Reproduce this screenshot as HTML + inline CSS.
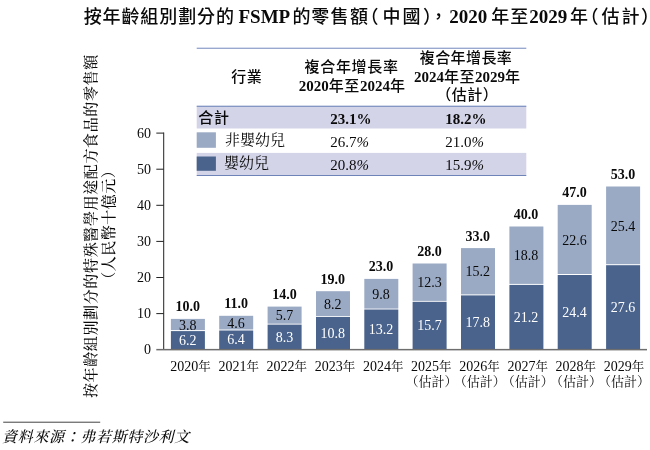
<!DOCTYPE html>
<html lang="zh-Hant"><head><meta charset="utf-8"><title>FSMP</title>
<style>html,body{margin:0;padding:0;background:#fff}svg{display:block}text{fill:#0a0a0a}</style></head><body>
<svg width="650" height="450" viewBox="0 0 650 450">
<rect width="650" height="450" fill="#fff"/>
<text y="23.4" font-family='"Liberation Serif", "Noto Sans CJK TC", sans-serif' font-weight="bold" font-size="18"><tspan x="83.7 102.6 121.4 140.3 159.2 178.2 197.1 215.9" font-size="18" font-weight="500">按年齡組別劃分的</tspan><tspan x="238.5" font-size="19">FSMP</tspan><tspan x="292.5 311.2 330.5 350.1" font-size="18" font-weight="500">的零售額</tspan><tspan x="360.5" font-size="18" font-weight="500">（</tspan><tspan x="382.5 402.4" font-size="18" font-weight="500">中國</tspan><tspan x="423.0" font-size="18" font-weight="500">）</tspan><tspan x="429.4" font-size="18" font-weight="500">，</tspan><tspan x="449.3" font-size="19">2020</tspan><tspan x="491.3 510.2" font-size="18" font-weight="500">年至</tspan><tspan x="529.2" font-size="19">2029</tspan><tspan x="570.0" font-size="18" font-weight="500">年</tspan><tspan x="580.6" font-size="18" font-weight="500">（</tspan><tspan x="601.6 621.4" font-size="18" font-weight="500">估計</tspan><tspan x="641.1" font-size="18" font-weight="500">）</tspan></text>
<rect x="196.7" y="106.3" width="329.6" height="22.2" fill="#d3d4e8"/>
<rect x="196.7" y="152.9" width="329.6" height="22.4" fill="#d3d4e8"/>
<rect x="196.7" y="47.7" width="329.6" height="1.1" fill="#7f93c4"/>
<rect x="196.7" y="105.7" width="329.6" height="1.1" fill="#6e84b9"/>
<rect x="196.7" y="175" width="329.6" height="1" fill="#6e84b9"/>
<rect x="196.7" y="132.3" width="19.2" height="15.5" fill="#9aaac4"/>
<rect x="196.7" y="156.5" width="19.2" height="14.3" fill="#4a638c"/>
<text x="246.7" y="82.4" font-family='"Liberation Serif", "Noto Sans CJK TC", sans-serif' font-size="15" text-anchor="middle"><tspan font-weight="500" letter-spacing="0.5">行業</tspan></text>
<text x="351.6" y="72.2" font-family='"Liberation Serif", "Noto Sans CJK TC", sans-serif' font-size="15" text-anchor="middle"><tspan font-weight="500" letter-spacing="0.7">複合年增長率</tspan></text>
<text x="352.1" y="90.6" font-family='"Liberation Serif", "Noto Sans CJK TC", sans-serif' font-size="15" text-anchor="middle"><tspan font-weight="bold" letter-spacing="0">2020</tspan><tspan font-weight="500" letter-spacing="0.6">年至</tspan><tspan font-weight="bold" letter-spacing="0">2024</tspan><tspan font-weight="500" letter-spacing="0.6">年</tspan></text>
<text x="466" y="63.3" font-family='"Liberation Serif", "Noto Sans CJK TC", sans-serif' font-size="15" text-anchor="middle"><tspan font-weight="500" letter-spacing="0.4">複合年增長率</tspan></text>
<text x="467.2" y="81.6" font-family='"Liberation Serif", "Noto Sans CJK TC", sans-serif' font-size="15" text-anchor="middle"><tspan font-weight="bold" letter-spacing="0">2024</tspan><tspan font-weight="500" letter-spacing="0.5">年至</tspan><tspan font-weight="bold" letter-spacing="0">2029</tspan><tspan font-weight="500" letter-spacing="0.5">年</tspan></text>
<text x="467.2" y="99.6" font-family='"Liberation Serif", "Noto Sans CJK TC", sans-serif' font-size="15" text-anchor="middle"><tspan font-weight="500" letter-spacing="0.5">（估計）</tspan></text>
<text x="198.3" y="123.1" font-family='"Liberation Serif", "Noto Sans CJK TC", sans-serif' font-size="15"><tspan font-weight="500" letter-spacing="0.8">合計</tspan></text>
<text x="225" y="144.7" font-family='"Liberation Serif", "Noto Serif CJK SC", serif' font-size="15">非嬰幼兒</text>
<text x="224" y="168.3" font-family='"Liberation Serif", "Noto Serif CJK SC", serif' font-size="15">嬰幼兒</text>
<text x="330.3" y="123.5" font-family='"Liberation Serif", "Noto Serif CJK SC", serif' font-size="15" font-weight="bold">23.1%</text>
<text x="445.3" y="123.5" font-family='"Liberation Serif", "Noto Serif CJK SC", serif' font-size="15" font-weight="bold">18.2%</text>
<text x="330.3" y="146.5" font-family='"Liberation Serif", "Noto Serif CJK SC", serif' font-size="15">26.7<tspan font-style="italic">%</tspan></text>
<text x="445.3" y="146.5" font-family='"Liberation Serif", "Noto Serif CJK SC", serif' font-size="15">21.0<tspan font-style="italic">%</tspan></text>
<text x="330.3" y="170" font-family='"Liberation Serif", "Noto Serif CJK SC", serif' font-size="15">20.8<tspan font-style="italic">%</tspan></text>
<text x="445.3" y="170" font-family='"Liberation Serif", "Noto Serif CJK SC", serif' font-size="15">15.9<tspan font-style="italic">%</tspan></text>
<rect x="163.2" y="132.5" width="1" height="217" fill="#222"/>
<rect x="156.3" y="313.1" width="7.4" height="1" fill="#222"/>
<rect x="156.3" y="277.0" width="7.4" height="1" fill="#222"/>
<rect x="156.3" y="240.9" width="7.4" height="1" fill="#222"/>
<rect x="156.3" y="204.8" width="7.4" height="1" fill="#222"/>
<rect x="156.3" y="168.7" width="7.4" height="1" fill="#222"/>
<rect x="156.3" y="132.6" width="7.4" height="1" fill="#222"/>
<text x="151" y="354.3" font-family='"Liberation Serif", "Noto Serif CJK SC", serif' font-size="14" text-anchor="end">0</text>
<text x="151" y="318.2" font-family='"Liberation Serif", "Noto Serif CJK SC", serif' font-size="14" text-anchor="end">10</text>
<text x="151" y="282.1" font-family='"Liberation Serif", "Noto Serif CJK SC", serif' font-size="14" text-anchor="end">20</text>
<text x="151" y="246.0" font-family='"Liberation Serif", "Noto Serif CJK SC", serif' font-size="14" text-anchor="end">30</text>
<text x="151" y="209.9" font-family='"Liberation Serif", "Noto Serif CJK SC", serif' font-size="14" text-anchor="end">40</text>
<text x="151" y="173.8" font-family='"Liberation Serif", "Noto Serif CJK SC", serif' font-size="14" text-anchor="end">50</text>
<text x="151" y="137.7" font-family='"Liberation Serif", "Noto Serif CJK SC", serif' font-size="14" text-anchor="end">60</text>
<text transform="translate(95.9 226.1) rotate(-90)" font-family='"Liberation Serif", "Noto Serif CJK SC", serif' font-size="15" font-weight="500" text-anchor="middle" letter-spacing="0.63">按年齡組別劃分的特殊醫學用途配方食品的零售額</text>
<text transform="translate(114.4 224.8) rotate(-90)" font-family='"Liberation Serif", "Noto Serif CJK SC", serif' font-size="15" font-weight="500" text-anchor="middle" letter-spacing="0.5">（人民幣十億元）</text>
<rect x="170.9" y="318.9" width="34.0" height="11.2" fill="#9aaac4"/>
<rect x="170.9" y="331.1" width="34.0" height="17.9" fill="#4a638c"/>
<text x="187.7" y="311.3" font-family='"Liberation Serif", "Noto Serif CJK SC", serif' font-size="14" text-anchor="middle" font-weight="bold">10.0</text>
<text x="187.7" y="329.7" font-family='"Liberation Serif", "Noto Serif CJK SC", serif' font-size="14" text-anchor="middle">3.8</text>
<text x="187.7" y="344.7" font-family='"Liberation Serif", "Noto Serif CJK SC", serif' font-size="14" text-anchor="middle" style="fill:#fff">6.2</text>
<text x="170.3" y="371" font-family='"Liberation Serif", "Noto Serif CJK SC", serif' font-size="14">2020<tspan font-size="12.5">年</tspan></text>
<rect x="219.2" y="315.8" width="34.0" height="13.7" fill="#9aaac4"/>
<rect x="219.2" y="330.5" width="34.0" height="18.5" fill="#4a638c"/>
<text x="236.1" y="308.2" font-family='"Liberation Serif", "Noto Serif CJK SC", serif' font-size="14" text-anchor="middle" font-weight="bold">11.0</text>
<text x="236.1" y="327.8" font-family='"Liberation Serif", "Noto Serif CJK SC", serif' font-size="14" text-anchor="middle">4.6</text>
<text x="236.1" y="344.4" font-family='"Liberation Serif", "Noto Serif CJK SC", serif' font-size="14" text-anchor="middle" style="fill:#fff">6.4</text>
<text x="218.5" y="371" font-family='"Liberation Serif", "Noto Serif CJK SC", serif' font-size="14">2021<tspan font-size="12.5">年</tspan></text>
<rect x="267.6" y="306.6" width="34.0" height="17.1" fill="#9aaac4"/>
<rect x="267.6" y="324.6" width="34.0" height="24.4" fill="#4a638c"/>
<text x="284.4" y="299.0" font-family='"Liberation Serif", "Noto Serif CJK SC", serif' font-size="14" text-anchor="middle" font-weight="bold">14.0</text>
<text x="284.4" y="320.3" font-family='"Liberation Serif", "Noto Serif CJK SC", serif' font-size="14" text-anchor="middle">5.7</text>
<text x="284.4" y="341.5" font-family='"Liberation Serif", "Noto Serif CJK SC", serif' font-size="14" text-anchor="middle" style="fill:#fff">8.3</text>
<text x="266.6" y="371" font-family='"Liberation Serif", "Noto Serif CJK SC", serif' font-size="14">2022<tspan font-size="12.5">年</tspan></text>
<rect x="316.0" y="291.2" width="34.0" height="24.8" fill="#9aaac4"/>
<rect x="316.0" y="316.9" width="34.0" height="32.1" fill="#4a638c"/>
<text x="332.8" y="283.6" font-family='"Liberation Serif", "Noto Serif CJK SC", serif' font-size="14" text-anchor="middle" font-weight="bold">19.0</text>
<text x="332.8" y="308.7" font-family='"Liberation Serif", "Noto Serif CJK SC", serif' font-size="14" text-anchor="middle">8.2</text>
<text x="332.8" y="337.6" font-family='"Liberation Serif", "Noto Serif CJK SC", serif' font-size="14" text-anchor="middle" style="fill:#fff">10.8</text>
<text x="314.8" y="371" font-family='"Liberation Serif", "Noto Serif CJK SC", serif' font-size="14">2023<tspan font-size="12.5">年</tspan></text>
<rect x="364.3" y="278.9" width="34.0" height="29.7" fill="#9aaac4"/>
<rect x="364.3" y="309.5" width="34.0" height="39.5" fill="#4a638c"/>
<text x="381.1" y="271.3" font-family='"Liberation Serif", "Noto Serif CJK SC", serif' font-size="14" text-anchor="middle" font-weight="bold">23.0</text>
<text x="381.1" y="298.9" font-family='"Liberation Serif", "Noto Serif CJK SC", serif' font-size="14" text-anchor="middle">9.8</text>
<text x="381.1" y="333.9" font-family='"Liberation Serif", "Noto Serif CJK SC", serif' font-size="14" text-anchor="middle" style="fill:#fff">13.2</text>
<text x="362.9" y="371" font-family='"Liberation Serif", "Noto Serif CJK SC", serif' font-size="14">2024<tspan font-size="12.5">年</tspan></text>
<rect x="412.6" y="263.5" width="34.0" height="37.4" fill="#9aaac4"/>
<rect x="412.6" y="301.8" width="34.0" height="47.2" fill="#4a638c"/>
<text x="429.4" y="255.9" font-family='"Liberation Serif", "Noto Serif CJK SC", serif' font-size="14" text-anchor="middle" font-weight="bold">28.0</text>
<text x="429.4" y="287.3" font-family='"Liberation Serif", "Noto Serif CJK SC", serif' font-size="14" text-anchor="middle">12.3</text>
<text x="429.4" y="330.1" font-family='"Liberation Serif", "Noto Serif CJK SC", serif' font-size="14" text-anchor="middle" style="fill:#fff">15.7</text>
<text x="411.1" y="371" font-family='"Liberation Serif", "Noto Serif CJK SC", serif' font-size="14">2025<tspan font-size="12.5">年</tspan></text>
<text x="431.5" y="385.8" font-family='"Liberation Serif", "Noto Serif CJK SC", serif' font-size="13" text-anchor="middle">（估計）</text>
<rect x="461.0" y="248.1" width="34.0" height="46.3" fill="#9aaac4"/>
<rect x="461.0" y="295.4" width="34.0" height="53.6" fill="#4a638c"/>
<text x="477.8" y="240.5" font-family='"Liberation Serif", "Noto Serif CJK SC", serif' font-size="14" text-anchor="middle" font-weight="bold">33.0</text>
<text x="477.8" y="276.4" font-family='"Liberation Serif", "Noto Serif CJK SC", serif' font-size="14" text-anchor="middle">15.2</text>
<text x="477.8" y="326.8" font-family='"Liberation Serif", "Noto Serif CJK SC", serif' font-size="14" text-anchor="middle" style="fill:#fff">17.8</text>
<text x="459.3" y="371" font-family='"Liberation Serif", "Noto Serif CJK SC", serif' font-size="14">2026<tspan font-size="12.5">年</tspan></text>
<text x="479.7" y="385.8" font-family='"Liberation Serif", "Noto Serif CJK SC", serif' font-size="13" text-anchor="middle">（估計）</text>
<rect x="509.4" y="226.5" width="34.0" height="57.4" fill="#9aaac4"/>
<rect x="509.4" y="284.9" width="34.0" height="64.1" fill="#4a638c"/>
<text x="526.1" y="218.9" font-family='"Liberation Serif", "Noto Serif CJK SC", serif' font-size="14" text-anchor="middle" font-weight="bold">40.0</text>
<text x="526.1" y="260.4" font-family='"Liberation Serif", "Noto Serif CJK SC", serif' font-size="14" text-anchor="middle">18.8</text>
<text x="526.1" y="321.6" font-family='"Liberation Serif", "Noto Serif CJK SC", serif' font-size="14" text-anchor="middle" style="fill:#fff">21.2</text>
<text x="507.4" y="371" font-family='"Liberation Serif", "Noto Serif CJK SC", serif' font-size="14">2027<tspan font-size="12.5">年</tspan></text>
<text x="527.8" y="385.8" font-family='"Liberation Serif", "Noto Serif CJK SC", serif' font-size="13" text-anchor="middle">（估計）</text>
<rect x="557.7" y="204.9" width="34.0" height="69.1" fill="#9aaac4"/>
<rect x="557.7" y="275.0" width="34.0" height="74.0" fill="#4a638c"/>
<text x="574.5" y="197.3" font-family='"Liberation Serif", "Noto Serif CJK SC", serif' font-size="14" text-anchor="middle" font-weight="bold">47.0</text>
<text x="574.5" y="244.6" font-family='"Liberation Serif", "Noto Serif CJK SC", serif' font-size="14" text-anchor="middle">22.6</text>
<text x="574.5" y="316.7" font-family='"Liberation Serif", "Noto Serif CJK SC", serif' font-size="14" text-anchor="middle" style="fill:#fff">24.4</text>
<text x="555.6" y="371" font-family='"Liberation Serif", "Noto Serif CJK SC", serif' font-size="14">2028<tspan font-size="12.5">年</tspan></text>
<text x="576.0" y="385.8" font-family='"Liberation Serif", "Noto Serif CJK SC", serif' font-size="13" text-anchor="middle">（估計）</text>
<rect x="606.1" y="186.5" width="34.0" height="77.7" fill="#9aaac4"/>
<rect x="606.1" y="265.2" width="34.0" height="83.8" fill="#4a638c"/>
<text x="622.9" y="178.9" font-family='"Liberation Serif", "Noto Serif CJK SC", serif' font-size="14" text-anchor="middle" font-weight="bold">53.0</text>
<text x="622.9" y="230.5" font-family='"Liberation Serif", "Noto Serif CJK SC", serif' font-size="14" text-anchor="middle">25.4</text>
<text x="622.9" y="311.7" font-family='"Liberation Serif", "Noto Serif CJK SC", serif' font-size="14" text-anchor="middle" style="fill:#fff">27.6</text>
<text x="603.7" y="371" font-family='"Liberation Serif", "Noto Serif CJK SC", serif' font-size="14">2029<tspan font-size="12.5">年</tspan></text>
<text x="624.1" y="385.8" font-family='"Liberation Serif", "Noto Serif CJK SC", serif' font-size="13" text-anchor="middle">（估計）</text>
<rect x="156.3" y="348.9" width="490.7" height="1.5" fill="#6e6e6e"/>
<rect x="3.2" y="421.7" width="97" height="1" fill="#444"/>
<text x="2.1" y="441.5" font-family='"Liberation Serif", "Noto Serif CJK SC", serif' font-size="15" font-style="italic" font-weight="500" letter-spacing="0.65">資料來源：弗若斯特沙利文</text>
</svg></body></html>
